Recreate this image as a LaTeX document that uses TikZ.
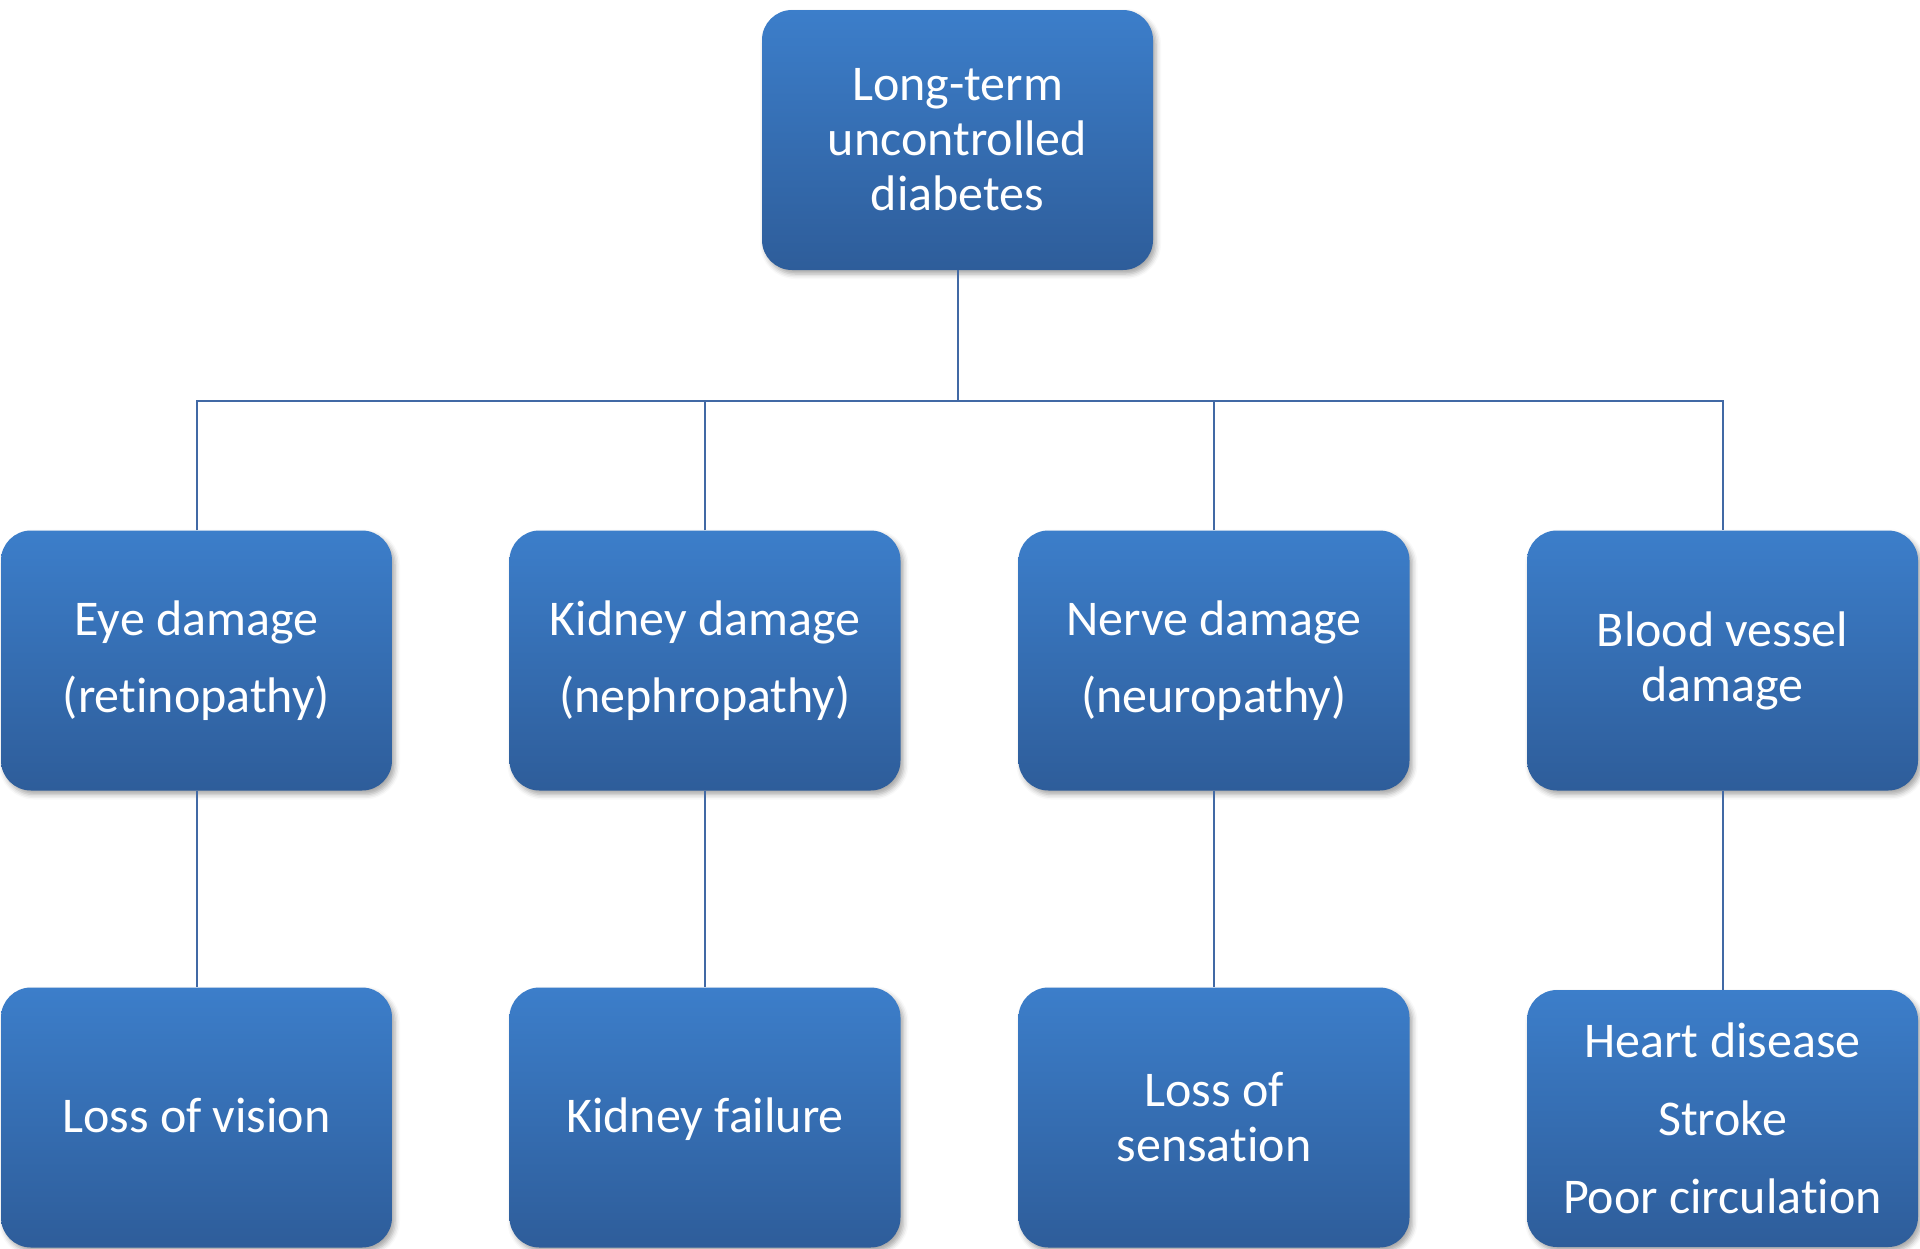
\documentclass[tikz,border=0pt]{standalone}
\usepackage{fontspec}
\setmainfont{Carlito}[Ligatures={NoCommon,NoRare,NoContextual}]
\usetikzlibrary{shadows.blur}
\definecolor{boxtop}{RGB}{60,126,202}
\definecolor{boxbot}{RGB}{46,93,154}
\definecolor{conncol}{RGB}{65,105,165}
\tikzset{
  box/.style={rectangle, rounded corners=30pt, minimum width=391pt, minimum height=260pt,
    top color=boxtop, bottom color=boxbot, draw=none, text=white, align=center,
    inner sep=0pt, font=\fontsize{50}{55}\selectfont,
    blur shadow={shadow xshift=3pt, shadow yshift=-4pt, shadow blur radius=5pt, shadow opacity=35}},
  conn/.style={draw=conncol, line width=2pt}
}
\begin{document}
\begin{tikzpicture}[x=1pt,y=-1pt]
\useasboundingbox (0,0) rectangle (1920,1248);
\node[box] (top) at (957.5,140) {Long-term\\uncontrolled\\diabetes};
\node[box] (eye) at (196.5,660.5) {Eye damage\\[22pt](retinopathy)};
\node[box] (kid) at (705,660.5) {Kidney damage\\[22pt](nephropathy)};
\node[box] (ner) at (1214,660.5) {Nerve damage\\[22pt](neuropathy)};
\node[box] (blo) at (1722.5,660.5) {Blood vessel\\damage};
\node[box] (vis) at (196.5,1117.5) {\raisebox{-4pt}[38.5pt][16.5pt]{Loss of vision}};
\node[box] (kf) at (705,1117.5) {\raisebox{-4pt}[38.5pt][16.5pt]{Kidney failure}};
\node[box] (sen) at (1214,1117.5) {Loss of\\sensation};
\node[box, minimum height=257pt] (hd) at (1722.5,1118.5) {Heart disease\\[23pt]Stroke\\[23pt]Poor circulation};
\coordinate (hb) at (0,401);
\draw[conn] (top.south) -- (top.south |- hb);
\draw[conn] (eye.north) -- (eye.north |- hb) -- (blo.north |- hb) -- (blo.north);
\draw[conn] (kid.north) -- (kid.north |- hb);
\draw[conn] (ner.north) -- (ner.north |- hb);
\draw[conn] (eye.south) -- (vis.north);
\draw[conn] (kid.south) -- (kf.north);
\draw[conn] (ner.south) -- (sen.north);
\draw[conn] (blo.south) -- (hd.north);
\end{tikzpicture}
\end{document}
